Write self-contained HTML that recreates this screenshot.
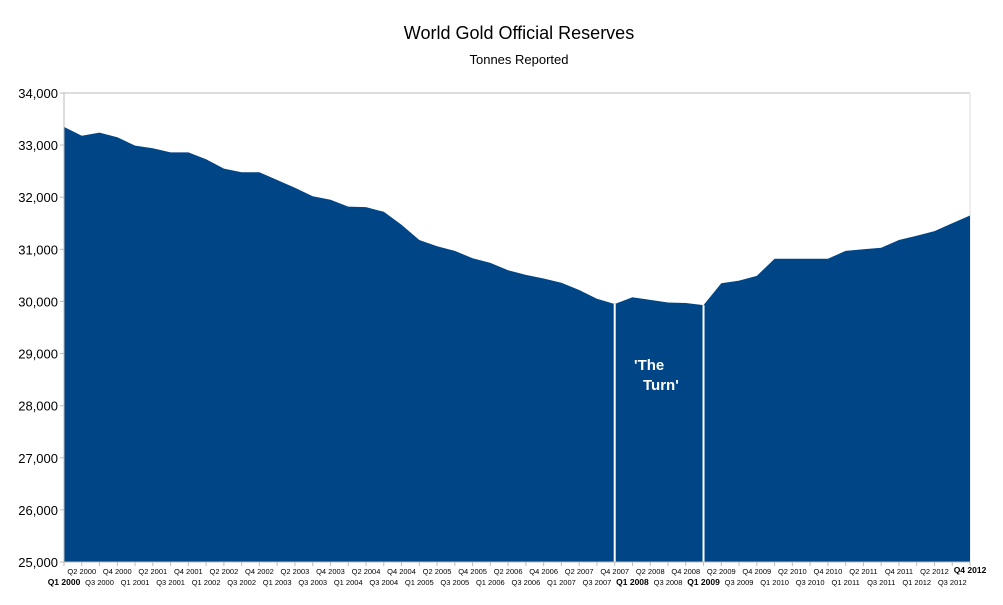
<!DOCTYPE html>
<html><head><meta charset="utf-8"><style>
body{margin:0;background:#fff;font-family:"Liberation Sans",sans-serif}
</style></head><body>
<svg id="c" width="1003" height="600" xmlns="http://www.w3.org/2000/svg" font-family="Liberation Sans, sans-serif">
<text x="519" y="39" text-anchor="middle" font-size="18" fill="#000">World Gold Official Reserves</text>
<text x="519" y="64" text-anchor="middle" font-size="13" fill="#000">Tonnes Reported</text>
<g id="plot"></g>
</svg>
<script>
const categories=[];for(let y=2000;y<=2012;y++)for(let q=1;q<=4;q++)categories.push('Q'+q+' '+y);
const reserves=[33350,33180,33240,33150,32990,32940,32860,32860,32730,32550,32480,32480,32330,32180,32020,31950,31820,31810,31720,31470,31180,31060,30970,30830,30740,30600,30510,30440,30360,30220,30050,29950,30080,30030,29980,29970,29930,30350,30400,30490,30820,30820,30820,30820,30970,31000,31030,31180,31260,31350,31500,31650];
const yTicks=[25000,26000,27000,28000,29000,30000,31000,32000,33000,34000];
const boldLabels=['Q1 2000','Q1 2008','Q1 2009','Q4 2012'];
const markerIdx=[31,36];
const NS='http://www.w3.org/2000/svg';
const X0=64,X1=970,Y0=562,Y1=93,vmin=25000,vmax=34000;
const xs=i=>X0+(X1-X0)*i/(categories.length-1);
const ys=v=>Y0-(v-vmin)/(vmax-vmin)*(Y0-Y1);
const g=document.getElementById('plot');
function mk(t,a){const e=document.createElementNS(NS,t);for(const k in a)e.setAttribute(k,a[k]);g.appendChild(e);return e;}
let e=mk('line',{x1:X0,y1:Y1,x2:X1,y2:Y1,stroke:'#bbb'});


e=mk('line',{x1:X1,y1:Y1,x2:X1,y2:Y0,stroke:'#ddd'});


let d='M'+X0+','+Y0;reserves.forEach((v,i)=>d+=' L'+xs(i).toFixed(1)+','+ys(v).toFixed(1));d+=' L'+X1+','+Y0+' Z';
e=mk('path',{d:d,fill:'#004586'});


markerIdx.forEach(i=>{const m=mk('line',{x1:xs(i),y1:ys(reserves[i]),x2:xs(i),y2:Y0,stroke:'#fff','stroke-width':2});

});
e=mk('line',{x1:X0,y1:Y1,x2:X0,y2:Y0,stroke:'#bbb'});


e=mk('line',{x1:X0-4,y1:Y0,x2:X1,y2:Y0,stroke:'#bbb'});


yTicks.forEach(v=>{const t=mk('text',{x:X0-6,y:ys(v)+5,'text-anchor':'end','font-size':13,fill:'#000'});t.textContent=v.toLocaleString('en-US');


const tk=mk('line',{x1:X0-4,y1:ys(v),x2:X0,y2:ys(v),stroke:'#bbb'});

});
categories.forEach((c,i)=>{const b=boldLabels.includes(c);const tk=mk('line',{x1:xs(i),y1:Y0,x2:xs(i),y2:Y0+4,stroke:'#bbb'});


const up=i%2===1;const t=mk('text',{x:xs(i),y:up?(b?573:574):585,'text-anchor':'middle','font-size':b?8.5:7.5,'font-weight':b?'bold':'normal',fill:'#000'});t.textContent=c;

});
const a1=mk('text',{x:634,y:370,'font-size':15,'font-weight':'bold',fill:'#fff'});a1.textContent="'The";


const a2=mk('text',{x:643,y:390,'font-size':15,'font-weight':'bold',fill:'#fff'});a2.textContent="Turn'";


</script>
</body></html>
